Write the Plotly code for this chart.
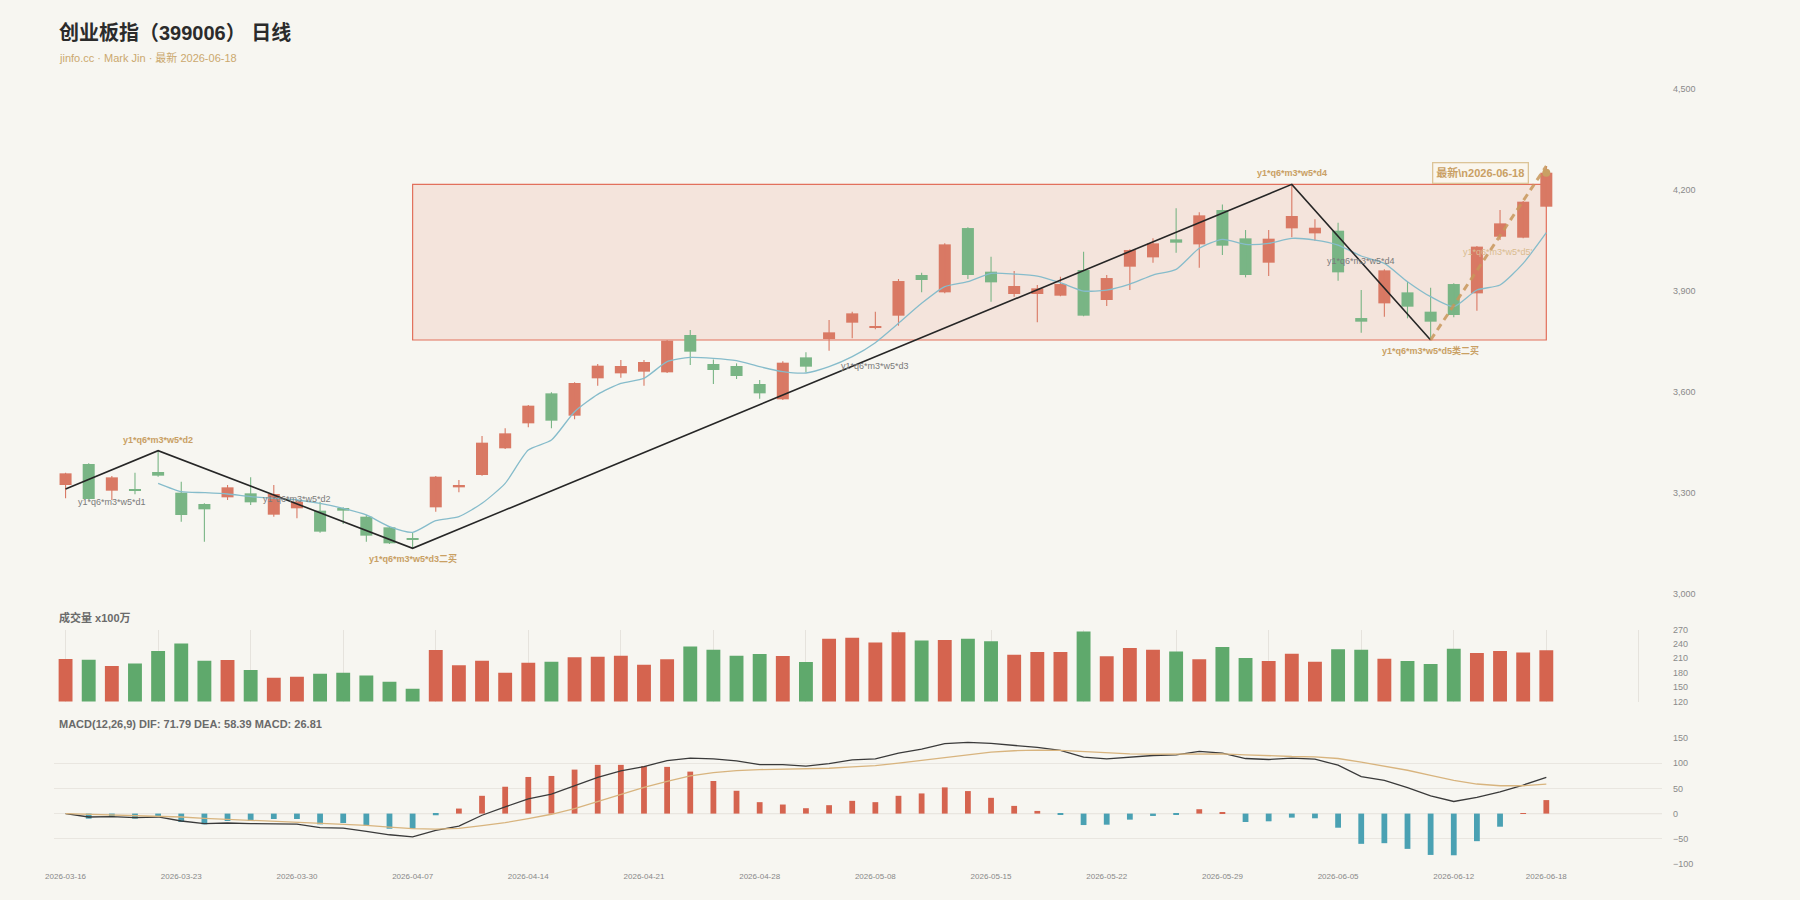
import plotly.graph_objects as go

# ---------------- data ----------------
dates = ["2026-03-16","2026-03-17","2026-03-18","2026-03-19","2026-03-20",
         "2026-03-23","2026-03-24","2026-03-25","2026-03-26","2026-03-27",
         "2026-03-30","2026-03-31","2026-04-01","2026-04-02","2026-04-03",
         "2026-04-07","2026-04-08","2026-04-09","2026-04-10","2026-04-13",
         "2026-04-14","2026-04-15","2026-04-16","2026-04-17","2026-04-20",
         "2026-04-21","2026-04-22","2026-04-23","2026-04-24","2026-04-27",
         "2026-04-28","2026-04-29","2026-04-30","2026-05-06","2026-05-07",
         "2026-05-08","2026-05-11","2026-05-12","2026-05-13","2026-05-14",
         "2026-05-15","2026-05-18","2026-05-19","2026-05-20","2026-05-21",
         "2026-05-22","2026-05-25","2026-05-26","2026-05-27","2026-05-28",
         "2026-05-29","2026-06-01","2026-06-02","2026-06-03","2026-06-04",
         "2026-06-05","2026-06-08","2026-06-09","2026-06-10","2026-06-11",
         "2026-06-12","2026-06-15","2026-06-16","2026-06-17","2026-06-18"]

opens = [3323.8, 3386.1, 3306.9, 3311.9, 3362.4, 3301.0, 3267.3, 3287.1, 3299.0, 3235.6,
         3254.5, 3247.5, 3255.4, 3229.7, 3198.0, 3163.4, 3257.4, 3316.8, 3353.5, 3432.7,
         3506.9, 3596.0, 3529.7, 3640.6, 3655.4, 3660.4, 3658.4, 3769.3, 3683.1, 3677.2,
         3623.7, 3578.2, 3702.9, 3757.4, 3805.9, 3790.0, 3826.7, 3947.5, 3896.0, 4087.0,
         3957.4, 3891.0, 3891.0, 3886.1, 3962.3, 3873.2, 3972.2, 3999.9, 4053.4, 4038.5,
         4140.5, 4056.4, 3984.1, 4086.1, 4071.2, 4079.1, 3819.7, 3863.3, 3896.0, 3838.6,
         3920.7, 3893.0, 4061.3, 4058.4, 4150.4]
highs = [3360.4, 3388.1, 3350.5, 3360.4, 3425.7, 3333.7, 3269.3, 3323.8, 3346.5, 3323.8,
         3279.2, 3274.3, 3257.4, 3234.7, 3200.0, 3182.2, 3350.5, 3338.6, 3469.3, 3492.1,
         3561.4, 3599.0, 3628.7, 3683.1, 3695.0, 3695.0, 3754.4, 3784.1, 3696.9, 3685.1,
         3635.6, 3691.0, 3717.8, 3813.8, 3838.6, 3838.6, 3935.6, 3954.4, 4041.5, 4089.0,
         4001.9, 3959.3, 3917.8, 3942.5, 4016.8, 3947.5, 4023.7, 4056.4, 4145.5, 4133.6,
         4157.3, 4081.1, 4081.1, 4216.7, 4112.8, 4102.9, 3902.9, 3964.3, 3927.7, 3909.8,
         3922.7, 4033.8, 4140.5, 4167.2, 4271.2]
lows = [3284.2, 3280.2, 3279.2, 3296.0, 3348.5, 3214.9, 3155.5, 3279.2, 3264.4, 3229.7,
        3224.8, 3182.2, 3207.9, 3155.5, 3148.5, 3135.8, 3244.6, 3302.0, 3351.5, 3430.7,
        3495.0, 3492.1, 3518.8, 3618.8, 3642.5, 3618.8, 3656.4, 3680.2, 3623.7, 3638.6,
        3580.2, 3576.2, 3658.4, 3722.7, 3759.4, 3786.1, 3797.0, 3896.0, 3893.0, 3935.6,
        3868.2, 3883.1, 3806.9, 3884.1, 3824.7, 3855.4, 3902.9, 3984.1, 4013.8, 3969.2,
        4006.9, 3940.5, 3944.5, 4059.3, 4049.4, 3930.6, 3776.2, 3823.7, 3818.8, 3754.4,
        3821.7, 3841.5, 4051.4, 4056.4, 4148.4]
closes = [3358.4, 3282.2, 3346.5, 3307.9, 3351.5, 3234.7, 3251.5, 3316.8, 3272.3, 3297.0,
          3274.3, 3185.2, 3247.5, 3173.3, 3150.5, 3160.4, 3348.5, 3323.8, 3449.5, 3477.2,
          3559.4, 3514.8, 3626.7, 3678.2, 3677.2, 3689.1, 3752.4, 3719.8, 3665.3, 3647.5,
          3596.0, 3687.1, 3675.2, 3777.2, 3833.6, 3796.0, 3929.6, 3932.6, 4038.5, 3947.5,
          3925.7, 3914.8, 3907.9, 3920.7, 3826.7, 3938.5, 4021.7, 4041.5, 4043.5, 4124.7,
          4034.6, 3947.5, 4055.4, 4122.7, 4088.0, 3955.4, 3808.9, 3961.3, 3853.4, 3808.9,
          3828.7, 4031.8, 4100.9, 4165.3, 4251.4]

ma5 = [None, None, None, None,
       3328.7, 3304.0, 3301.0, 3297.0, 3289.1, 3284.2, 3279.2, 3269.3, 3254.5, 3234.7,
       3200.0, 3183.2, 3217.8, 3229.7, 3269.3, 3328.7, 3427.7, 3457.4, 3541.6, 3593.0,
       3625.7, 3640.6, 3690.1, 3702.9, 3700.0, 3693.0, 3675.2, 3660.4, 3656.4, 3675.2,
       3704.9, 3746.5, 3803.9, 3863.3, 3912.8, 3927.7, 3952.4, 3950.4, 3944.5, 3924.7,
       3899.9, 3902.9, 3920.7, 3947.5, 3964.3, 4026.8, 4053.4, 4038.5, 4041.5, 4056.4,
       4051.4, 4036.5, 4003.9, 3982.1, 3927.7, 3883.1, 3853.4, 3902.9, 3917.8, 3982.1,
       4073.2]

volume = [208.6, 207.2, 194.0, 199.5, 225.4, 240.7, 205.1, 206.5, 185.6, 169.5,
          171.6, 177.9, 180.0, 174.4, 161.2, 146.5, 227.4, 195.4, 205.1, 180.0,
          200.9, 203.0, 212.1, 213.5, 215.6, 196.7, 207.9, 234.4, 228.1, 215.6,
          219.1, 214.9, 202.3, 250.5, 252.6, 242.8, 264.4, 247.0, 248.4, 250.5,
          245.6, 217.7, 223.3, 223.3, 265.8, 214.2, 231.6, 228.1, 224.0, 207.9,
          233.7, 210.7, 204.4, 219.8, 203.0, 228.8, 228.1, 209.3, 204.4, 198.1,
          230.2, 221.2, 225.4, 221.9, 226.7]

macd_hist = [0.0, -10.0, -6.7, -10.0, -5.3, -16.7, -21.3, -14.7, -14.7, -10.7,
             -10.7, -21.3, -18.7, -24.0, -30.0, -30.0, -3.3, 10.0, 35.3, 53.3,
             72.7, 74.7, 87.3, 96.7, 96.7, 94.0, 92.7, 83.3, 64.7, 45.3,
             22.7, 18.0, 10.7, 16.7, 25.3, 22.7, 35.3, 40.0, 52.0, 44.7,
             31.3, 15.3, 5.3, -2.7, -22.7, -22.0, -12.0, -4.7, -1.3, 8.7,
             2.0, -16.7, -15.3, -8.0, -9.3, -28.0, -60.0, -58.7, -70.0, -82.0,
             -82.7, -54.7, -26.0, 0.5, 26.81]
dif = [0.0, -6.7, -6.0, -8.0, -6.7, -14.7, -20.0, -18.7, -20.0, -20.0,
       -20.7, -28.0, -28.7, -35.3, -42.0, -46.0, -33.3, -24.7, -3.3, 13.3,
       29.3, 38.7, 54.7, 72.0, 84.7, 93.3, 105.3, 110.0, 108.7, 104.7,
       97.3, 97.3, 94.0, 99.3, 106.7, 108.7, 120.0, 128.0, 139.0, 141.3,
       139.3, 135.3, 131.3, 125.3, 112.0, 108.7, 112.0, 115.3, 116.7, 123.3,
       120.0, 109.3, 107.3, 110.0, 108.0, 96.0, 73.3, 66.0, 51.3, 35.3,
       24.0, 32.0, 43.3, 56.7, 71.79]
dea = [0.0, -1.3, -2.0, -3.3, -4.7, -6.7, -9.3, -11.3, -13.3, -14.7,
       -16.0, -18.7, -20.7, -23.3, -26.7, -30.0, -30.7, -29.3, -24.0, -18.0,
       -10.0, -1.3, 10.0, 24.0, 38.0, 52.0, 64.0, 74.7, 81.3, 85.3,
       87.3, 88.0, 88.7, 90.0, 92.7, 95.3, 100.0, 105.3, 111.3, 116.7,
       122.0, 124.7, 126.0, 125.3, 122.7, 120.0, 118.7, 118.0, 118.7, 119.3,
       118.7, 116.7, 114.7, 113.3, 112.7, 109.3, 102.0, 94.7, 86.0, 76.0,
       66.0, 58.7, 55.3, 55.3, 58.39]

# zigzag (笔) vertices: index, price
zz_idx = [0, 4, 15, 53, 59]
zz_val = [3312.0, 3425.7, 3135.8, 4216.7, 3754.4]
# latest (unfinished) stroke
last_idx = [59, 64]
last_val = [3754.4, 4271.2]
# pivot zone
zone_x = [15, 64]
zone_y = [3754.4, 4216.7]

tick_idx = list(range(0, 61, 5)) + [64]

# ---------------- styling ----------------
BG = "#f7f6f1"
RED_C = "#d97964"
GRN_C = "#79b585"
RED_V = "#d5644f"
GRN_V = "#5fa96c"
TEAL = "#4aa1b3"
TAN = "#c9a064"
FONT = "Liberation Sans, Arial, Noto Sans CJK SC, sans-serif"

L, R, T, B = 54, 138, 89, 36
W, H = 1800, 900
PW = W - L - R
PH = H - T - B


def px2x(px):
    return (px - L) / PW


def py2y(py):
    return (H - B - py) / PH


idx = list(range(len(dates)))
up = [i for i in idx if closes[i] >= opens[i]]
dn = [i for i in idx if closes[i] < opens[i]]

fig = go.Figure()

# candle wicks
for group, col in ((up, RED_C), (dn, GRN_C)):
    xs, ys = [], []
    for i in group:
        xs += [i, i, None]
        ys += [lows[i], highs[i], None]
    fig.add_trace(go.Scatter(x=xs, y=ys, mode="lines", line=dict(color=col, width=1.1),
                             xaxis="x", yaxis="y", hoverinfo="skip"))

# candle bodies
fig.add_trace(go.Bar(x=up, y=[closes[i] - opens[i] for i in up], base=[opens[i] for i in up],
                     width=0.52, marker=dict(color=RED_C, line=dict(width=0)),
                     xaxis="x", yaxis="y", hoverinfo="skip"))
fig.add_trace(go.Bar(x=dn, y=[opens[i] - closes[i] for i in dn], base=[closes[i] for i in dn],
                     width=0.52, marker=dict(color=GRN_C, line=dict(width=0)),
                     xaxis="x", yaxis="y", hoverinfo="skip"))

# MA line
fig.add_trace(go.Scatter(x=idx, y=ma5, mode="lines",
                         line=dict(color="#86bccb", width=1.3, shape="spline", smoothing=0.6),
                         xaxis="x", yaxis="y", hoverinfo="skip", connectgaps=False))

# zigzag
fig.add_trace(go.Scatter(x=zz_idx, y=zz_val, mode="lines", line=dict(color="#262626", width=1.6),
                         xaxis="x", yaxis="y", hoverinfo="skip"))
fig.add_trace(go.Scatter(x=last_idx, y=last_val, mode="lines",
                         line=dict(color="rgba(200,150,90,0.85)", width=3, dash="7px,5px"),
                         xaxis="x", yaxis="y", hoverinfo="skip"))
fig.add_trace(go.Scatter(x=[idx[-1]], y=[closes[-1]], mode="markers",
                         marker=dict(size=8, color=TAN), xaxis="x", yaxis="y", hoverinfo="skip"))

# volume
fig.add_trace(go.Bar(x=idx, y=volume, width=0.6,
                     marker=dict(color=[RED_V if closes[i] >= opens[i] else GRN_V for i in idx],
                                 line=dict(width=0)),
                     xaxis="x2", yaxis="y2", hoverinfo="skip"))

# MACD
fig.add_trace(go.Bar(x=idx, y=macd_hist, width=0.25,
                     marker=dict(color=[RED_V if v >= 0 else TEAL for v in macd_hist],
                                 line=dict(width=0)),
                     xaxis="x3", yaxis="y3", hoverinfo="skip"))
fig.add_trace(go.Scatter(x=idx, y=dif, mode="lines", line=dict(color="#3a3a3a", width=1.3),
                         xaxis="x3", yaxis="y3", hoverinfo="skip"))
fig.add_trace(go.Scatter(x=idx, y=dea, mode="lines", line=dict(color="#d8b47e", width=1.3),
                         xaxis="x3", yaxis="y3", hoverinfo="skip"))

shapes = [
    dict(type="rect", xref="x", yref="y", x0=zone_x[0], x1=zone_x[1], y0=zone_y[0], y1=zone_y[1],
         fillcolor="rgba(225,120,95,0.14)", line=dict(color="#e2705c", width=1.2), layer="below"),
    dict(type="line", xref="x3", yref="y3", x0=0, x1=69, y0=0, y1=0,
         line=dict(color="#cdc8c0", width=1), layer="below"),
]

annotations = [
    dict(text="<b>创业板指（399006） 日线</b>", xref="paper", yref="paper", x=px2x(56.5), y=py2y(33),
         xanchor="left", yanchor="middle", showarrow=False,
         font=dict(size=20, color="#2b2b2b", family=FONT)),
    dict(text="jinfo.cc · Mark Jin · 最新 2026-06-18", xref="paper", yref="paper",
         x=px2x(56.5), y=py2y(58), xanchor="left", yanchor="middle", showarrow=False,
         font=dict(size=11, color="#cba86e", family=FONT)),
    dict(text="<b>成交量 x100万</b>", xref="paper", yref="paper", x=px2x(56.5), y=py2y(617),
         xanchor="left", yanchor="middle", showarrow=False,
         font=dict(size=11, color="#6a6a6a", family=FONT)),
    dict(text="<b>MACD(12,26,9) DIF: 71.79 DEA: 58.39 MACD: 26.81</b>", xref="paper", yref="paper",
         x=px2x(56.5), y=py2y(724), xanchor="left", yanchor="middle", showarrow=False,
         font=dict(size=11, color="#6a6a6a", family=FONT)),
]

# segment labels (grey) and vertex labels (tan bold)
seg_labels = [("y1*q6*m3*w5*d1", 2.0, 3273, "#7a7a7a"),
              ("y1*q6*m3*w5*d2", 10.0, 3283, "#7a7a7a"),
              ("y1*q6*m3*w5*d3", 35.0, 3678, "#7a7a7a"),
              ("y1*q6*m3*w5*d4", 56.0, 3990, "#7a7a7a"),
              ("y1*q6*m3*w5*d5'", 61.9, 4016, "#d9bc90")]
for t, x, y, c in seg_labels:
    annotations.append(dict(text=t, xref="x", yref="y", x=x, y=y, showarrow=False,
                            xanchor="center", yanchor="middle",
                            font=dict(size=9, color=c, family=FONT)))

vtx_labels = [("y1*q6*m3*w5*d2", 1, 11),
              ("y1*q6*m3*w5*d3二买", 2, -10),
              ("y1*q6*m3*w5*d4", 3, 11),
              ("y1*q6*m3*w5*d5类二买", 4, -10)]
for t, k, sh in vtx_labels:
    annotations.append(dict(text="<b>" + t + "</b>", xref="x", yref="y", x=zz_idx[k], y=zz_val[k],
                            yshift=sh, showarrow=False, xanchor="center", yanchor="middle",
                            font=dict(size=9, color=TAN, family=FONT)))

annotations.append(dict(text="<b>最新\\n2026-06-18</b>", xref="x", yref="y", x=61.16, y=4249.5,
                        showarrow=False, xanchor="center", yanchor="middle",
                        bordercolor="#dcc497", borderwidth=1.3, borderpad=3,
                        bgcolor="rgba(250,246,236,0.85)",
                        font=dict(size=11, color=TAN, family=FONT)))

axis_font = dict(size=9, color="#8a8a8a", family=FONT)
xr = [-0.5, 69]

fig.update_layout(
    width=W, height=H, margin=dict(l=L, r=R, t=T, b=B),
    paper_bgcolor=BG, plot_bgcolor=BG, showlegend=False, barmode="overlay",
    hovermode=False, font=dict(family=FONT, color="#888"),
    shapes=shapes, annotations=annotations,
    xaxis=dict(domain=[0, 1], anchor="y", range=xr, showgrid=False, zeroline=False,
               showticklabels=False, ticks="", showline=False),
    yaxis=dict(domain=[py2y(594), 1], anchor="x", side="right", range=[3000, 4500],
               tickvals=[3000, 3300, 3600, 3900, 4200, 4500], tickformat=",",
               showgrid=False, zeroline=False, ticks="", ticklabelstandoff=10, tickfont=axis_font),
    xaxis2=dict(domain=[0, 1], anchor="y2", range=xr, showgrid=True, gridcolor="#e6e3dd",
                tickvals=list(range(0, 69, 4)) + [69], showticklabels=False, zeroline=False, ticks=""),
    yaxis2=dict(domain=[py2y(701.6), py2y(629.5)], anchor="x2", side="right", range=[120, 270],
                tickvals=[120, 150, 180, 210, 240, 270], showgrid=False, zeroline=False, ticks="",
                ticklabelstandoff=10, tickfont=axis_font),
    xaxis3=dict(domain=[0, 1], anchor="y3", range=xr, showgrid=False, zeroline=False,
                tickvals=tick_idx, ticktext=[dates[i] for i in tick_idx], ticks="",
                ticklabelstandoff=6, tickangle=0, tickfont=dict(size=8, color="#888", family=FONT)),
    yaxis3=dict(domain=[0, py2y(738)], anchor="x3", side="right", range=[-100, 150],
                tickvals=[-100, -50, 0, 50, 100, 150], showgrid=True, gridcolor="#e9e6e0",
                zeroline=False, ticks="", ticklabelstandoff=10, tickfont=axis_font),
)

fig.write_html("out.html")
